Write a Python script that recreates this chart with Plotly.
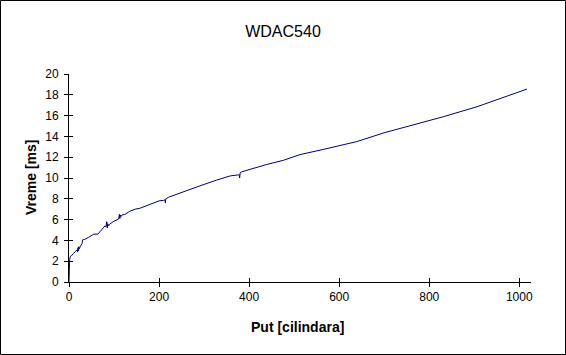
import plotly.graph_objects as go

# Data
put_cilindara = [0, 0, 1, 1.5, 3, 5, 10, 15, 18, 19, 20, 21, 22, 23, 25, 29, 30, 35, 44, 55,
                 64, 69, 73, 80, 82, 84, 85, 86, 88, 90, 98, 106, 110, 112, 113, 114, 116, 118,
                 124, 135, 147, 158, 180, 200, 210, 213, 214, 215, 221, 254, 291, 328, 358, 376,
                 378, 379, 380, 384, 402, 439, 476, 513, 565, 600, 639, 700, 713, 776, 800, 832,
                 906, 965, 1017]
vreme_ms = [0, 2.1, 1.3, 2.2, 2.45, 2.5, 2.75, 3.0, 3.1, 2.9, 3.3, 3.0, 3.4, 3.2, 3.4, 3.7, 4.05,
            4.1, 4.3, 4.6, 4.6, 4.85, 5.05, 5.4, 5.3, 5.8, 5.2, 5.6, 5.4, 5.55, 5.8, 6.0, 6.05,
            6.5, 6.1, 6.45, 6.3, 6.45, 6.5, 6.8, 7.0, 7.1, 7.45, 7.8, 7.85, 7.9, 7.6, 8.0, 8.15,
            8.7, 9.25, 9.8, 10.2, 10.3, 10.3, 10.0, 10.5, 10.6, 10.85, 11.3, 11.7, 12.25, 12.75,
            13.1, 13.5, 14.35, 14.5, 15.2, 15.5, 15.9, 16.85, 17.75, 18.55]

x_ticks = [0, 200, 400, 600, 800, 1000]
y_ticks = [0, 2, 4, 6, 8, 10, 12, 14, 16, 18, 20]

W, H = 566, 355
L, R, T, B = 69, 35, 74, 73
PW, PH = W - L - R, H - T - B
FONT = "Arial, Liberation Sans, sans-serif"

fig = go.Figure()
fig.add_trace(go.Scatter(x=put_cilindara, y=vreme_ms, mode="lines",
                         line=dict(color="#000080", width=1), showlegend=False,
                         hoverinfo="skip"))
fig.add_trace(go.Scatter(x=[None], y=[None], xaxis="x2", yaxis="y2",
                         showlegend=False, hoverinfo="skip"))

axis_common = dict(showgrid=False, zeroline=False, linecolor="black", linewidth=1,
                   tickcolor="black", tickwidth=1, ticklen=4, ticks="outside",
                   automargin=False,
                   tickfont=dict(family=FONT, size=12, color="black"))

def px_x(p):
    return (p - L) / PW

def px_y(p):
    return (T + PH - p) / PH

fig.update_layout(
    width=W, height=H,
    margin=dict(l=L, r=R, t=T, b=B, pad=0, autoexpand=False),
    paper_bgcolor="white", plot_bgcolor="white",
    title=dict(text="WDAC540", font=dict(family=FONT, size=16, color="black"),
               x=px_x(283), xref="paper", xanchor="center",
               y=1 - 31 / H, yref="container", yanchor="middle"),
    xaxis=dict(range=[0, 1026], tickvals=x_ticks, showline=True, **axis_common),
    yaxis=dict(range=[0, 20], tickvals=y_ticks, showline=True, ticklabelstandoff=3,
               **axis_common),
    xaxis2=dict(overlaying="x", anchor="y2", range=[0, 1026], tickvals=x_ticks,
                ticks="inside", ticklen=4, tickcolor="black", tickwidth=1, automargin=False,
                showticklabels=False, showline=False, showgrid=False, zeroline=False),
    yaxis2=dict(overlaying="y", anchor="x2", range=[0, 20], tickvals=y_ticks,
                ticks="inside", ticklen=4, tickcolor="black", tickwidth=1, automargin=False,
                showticklabels=False, showline=False, showgrid=False, zeroline=False),
    annotations=[
        dict(text="<b>Put [cilindara]</b>", xref="paper", yref="paper",
             x=px_x(297), y=px_y(326.5), xanchor="center", yanchor="middle",
             showarrow=False, font=dict(family=FONT, size=14, color="black")),
        dict(text="<b>Vreme [ms]</b>", xref="paper", yref="paper",
             x=px_x(31), y=px_y(178), xanchor="center", yanchor="middle", textangle=-90,
             showarrow=False, font=dict(family=FONT, size=14, color="black")),
    ],
    shapes=[dict(type="rect", xref="paper", yref="paper",
                 x0=px_x(0.5), x1=px_x(W - 0.5),
                 y0=px_y(H - 0.5), y1=px_y(0.5),
                 line=dict(color="black", width=1), fillcolor="rgba(0,0,0,0)")],
)

fig.write_html("out.html", config={"displayModeBar": False},
               post_script="document.body.style.margin='0';document.body.style.overflow='hidden';")
